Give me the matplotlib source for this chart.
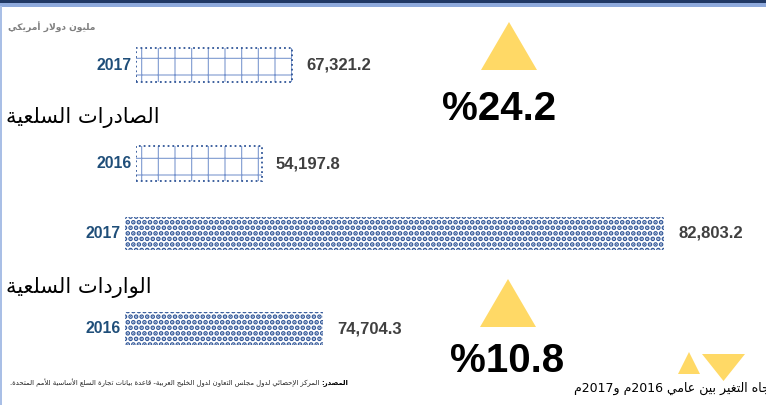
import re
import matplotlib.pyplot as plt
from matplotlib.patches import Polygon, Rectangle

# data
years = ['2016', '2017']
exports = [54197.8, 67321.2]
imports = [74704.3, 82803.2]
export_change = '%24.2'
import_change = '%10.8'
export_title = 'الصادرات السلعية'
import_title = 'الواردات السلعية'
unit_label = 'مليون دولار أمريكي'
legend_label = 'اتجاه التغير بين عامي 2016م و2017م'
source_head = 'المصدر:'
source_body = 'المركز الإحصائي لدول مجلس التعاون لدول الخليج العربية- قاعدة بيانات تجارة السلع الأساسية للأمم المتحدة.'

# minimal arabic shaping (matplotlib has no complex text layout)
ARABIC = 'ءآأؤإئابةتثجحخدذرزسشصضطظعغفقكلمنهوىي'
NFORMS = [1, 2, 2, 2, 2, 4, 2, 4, 2, 4, 4, 4, 4, 4, 2, 2, 2, 2,
          4, 4, 4, 4, 4, 4, 4, 4, 4, 4, 4, 4, 4, 4, 4, 2, 2, 4]
FORMS = {}
code = 0xFE80
for ch, n in zip(ARABIC, NFORMS):
    FORMS[ch] = (code, n)
    code += n
LAM_ALEF = {'آ': 0xFEF5, 'أ': 0xFEF7, 'إ': 0xFEF9, 'ا': 0xFEFB}


def shape(text):
    out = []
    i = 0
    while i < len(text):
        c = text[i]
        if c not in FORMS:
            out.append(c)
            i += 1
            continue
        prev = text[i - 1] if i > 0 else ''
        linked = prev in FORMS and FORMS[prev][1] == 4
        nxt = text[i + 1] if i + 1 < len(text) else ''
        if c == 'ل' and nxt in LAM_ALEF:
            out.append(chr(LAM_ALEF[nxt] + linked))
            i += 2
            continue
        base, k = FORMS[c]
        to_next = k == 4 and nxt in FORMS
        if k == 1:
            form = 0
        elif linked and to_next:
            form = 3
        elif linked:
            form = 1
        elif to_next:
            form = 2
        else:
            form = 0
        out.append(chr(base + form))
        i += 1
    return ''.join(out)


def ar(text):
    runs = re.findall(r'[0-9][0-9.,]*|[^0-9]+', shape(text))
    return ''.join(r if r[0].isdigit() else r[::-1] for r in reversed(runs))


plt.rcParams['font.family'] = ['DejaVu Sans']
plt.rcParams['hatch.linewidth'] = 2.4
NUM_FONT = 'Liberation Sans'
W, H = 766, 405
fig = plt.figure(figsize=(W / 100, H / 100), dpi=100)


def px_axes(left, top, width, height):
    ax = fig.add_axes([left / W, 1 - (top + height) / H, width / W, height / H])
    ax.set_axis_off()
    ax.patch.set_alpha(0)
    return ax


# background / frame
bg = fig.add_axes([0, 0, 1, 1])
bg.set_xlim(0, W)
bg.set_ylim(H, 0)
bg.set_axis_off()
bg.add_patch(Rectangle((0, 0), W, 2.5, color='#203864', lw=0))
bg.add_patch(Rectangle((0, 2.5), W, 4, color='#8FAADC', lw=0))
bg.add_patch(Rectangle((0, 6), 2, H, color='#A9BFE6', lw=0))

gold = '#FFD966'
bg.add_patch(Polygon([(481, 70), (537, 70), (509, 22)], color=gold, lw=0))
bg.add_patch(Polygon([(480, 327), (536, 327), (508, 279)], color=gold, lw=0))
bg.add_patch(Polygon([(678, 374), (700, 374), (689, 352)], color=gold, lw=0))
bg.add_patch(Polygon([(702, 354), (745, 354), (723.5, 381)], color=gold, lw=0))

bg.text(442, 120, export_change, fontsize=29, fontweight='bold',
        family=NUM_FONT, ha='left', va='baseline', color='black')
bg.text(450, 372, import_change, fontsize=29, fontweight='bold',
        family=NUM_FONT, ha='left', va='baseline', color='black')

bg.text(95, 27, ar(unit_label), fontsize=6.6, fontweight='bold',
        color='#7F7F7F', ha='right', va='center')
bg.text(160, 117, ar(export_title), fontsize=15, ha='right', va='center',
        color='black')
bg.text(152, 287, ar(import_title), fontsize=15, ha='right', va='center',
        color='black')
bg.text(777, 388, ar(legend_label), fontsize=9, ha='right', va='center',
        color='black')
head = bg.text(348, 383, ar(source_head), fontsize=4.95, fontweight='bold',
               ha='right', va='center', color='black')
bg.annotate(ar(source_body), xy=(0, 0.5), xycoords=head, xytext=(-2, 0),
            textcoords='offset pixels', ha='right', va='center', fontsize=4.95,
            color='#222222')

blue = '#2F5597'
year_color = '#1F4E79'
value_color = '#404040'
ypos = [0, 1]

# exports: dotted grid pattern
ax_exp = px_axes(136, 15.75, 301.6, 197)
ax_exp.set_xlim(0, 130000)
ax_exp.set_ylim(-0.5, 1.5)
grid_bars = ax_exp.barh(ypos, exports, height=0.35, left=0, color='white',
                        edgecolor='#7F9AD0', linewidth=0, hatch='+')
for b in grid_bars:
    if hasattr(b, 'set_hatch_linewidth'):
        b.set_hatch_linewidth(0.8)
ax_exp.barh(ypos, exports, height=0.35, left=0, color='none',
            edgecolor=blue, linewidth=1.3, linestyle=':')

# imports: checker pattern, axis starting at 70,000
ax_imp = px_axes(125, 186, 631.5, 190)
ax_imp.set_xlim(70000, 85000)
ax_imp.set_ylim(-0.5, 1.5)
ax_imp.barh(ypos, [v - 70000 for v in imports], height=0.35, left=70000,
            color='white', edgecolor=blue, linewidth=0, hatch='...')

for ax, vals, x0 in [(ax_exp, exports, 0), (ax_imp, imports, 70000)]:
    for y, yr, v in zip(ypos, years, vals):
        ax.annotate(yr, xy=(x0, y), xytext=(-4, 0), textcoords='offset pixels',
                    ha='right', va='center', fontsize=11.3, fontweight='bold',
                    family=NUM_FONT, color=year_color)
        ax.annotate(f'{v:,.1f}', xy=(v, y), xytext=(14, 0),
                    textcoords='offset pixels', ha='left', va='center',
                    fontsize=12, fontweight='bold', family=NUM_FONT,
                    color=value_color)

fig.savefig('out.png', dpi=100)
